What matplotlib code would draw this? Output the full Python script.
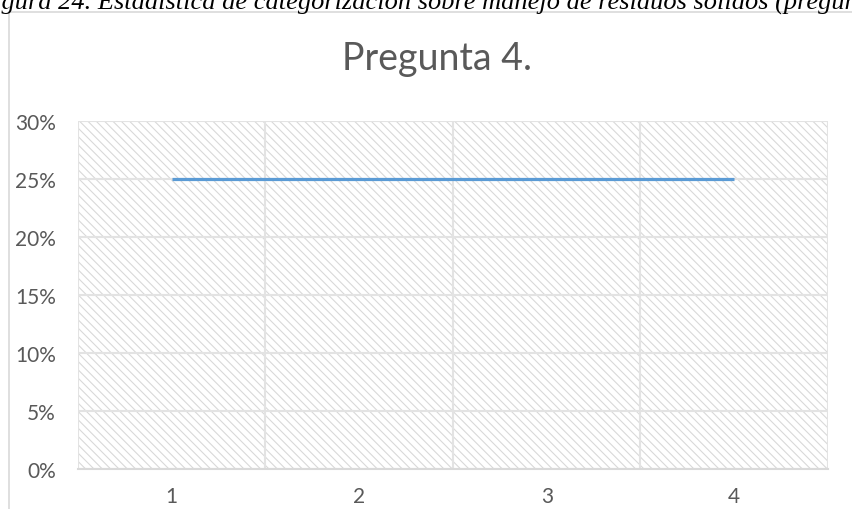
import matplotlib.pyplot as plt
from matplotlib.patches import Rectangle
import matplotlib

matplotlib.rcParams['hatch.color'] = '#d9d9d9'
matplotlib.rcParams['hatch.linewidth'] = 0.8

categorias = [1, 2, 3, 4]
valores = [0.25, 0.25, 0.25, 0.25]
ticks_y = [0, 0.05, 0.10, 0.15, 0.20, 0.25, 0.30]
etiquetas_y = ['0%', '5%', '10%', '15%', '20%', '25%', '30%']

fig = plt.figure(figsize=(8.53, 5.10), dpi=100)

# marco del grafico (recortado a la derecha y abajo)
fig.patches.append(Rectangle((9 / 853, -0.1), 1.0, (510 - 13) / 510 + 0.1,
                             transform=fig.transFigure, fill=False,
                             edgecolor='#d9d9d9', lw=1.2))

# pie de figura de la pagina, cortado arriba como en el original
fig.text(-0.026, 1 - 10 / 510, 'Figura 24. Estadística de categorización sobre manejo de residuos sólidos (pregunta 4)',
         family='Liberation Serif', style='italic', fontsize=19, va='baseline', ha='left')

ax = fig.add_axes([78 / 853, (510 - 470) / 510, 750 / 853, 348 / 510])
ax.add_patch(Rectangle((0, 0), 1, 1, transform=ax.transAxes, facecolor='white',
                       hatch='\\' * 4, edgecolor='#d9d9d9', lw=0, zorder=0))

ax.plot(categorias, valores, color='#5b9bd5', lw=2.3, solid_capstyle='butt', zorder=3)

ax.set_xlim(0.5, 4.5)
ax.set_ylim(0, 0.30)
ax.set_yticks(ticks_y)
ax.set_yticklabels(etiquetas_y)
ax.set_xticks(categorias)
ax.set_xticks([0.5, 1.5, 2.5, 3.5, 4.5], minor=True)
ax.grid(True, which='major', axis='y', color='#e3e3e3', lw=1.5)
ax.grid(True, which='minor', axis='x', color='#e3e3e3', lw=1.5)
ax.tick_params(which='both', length=0, labelsize=15, labelcolor='#595959')
ax.tick_params(axis='x', pad=12)
ax.tick_params(axis='y', pad=16)
for s in ['top', 'right', 'left']:
    ax.spines[s].set_visible(False)
ax.spines['bottom'].set_color('#d9d9d9')
ax.spines['bottom'].set_linewidth(1.5)
for lab in ax.get_xticklabels() + ax.get_yticklabels():
    lab.set_family('Lato')

fig.text(437 / 853, 1 - 70 / 510, 'Pregunta 4.', ha='center', va='baseline',
         fontsize=27, color='#595959', family='Lato')

fig.savefig('out.png', dpi=100)
